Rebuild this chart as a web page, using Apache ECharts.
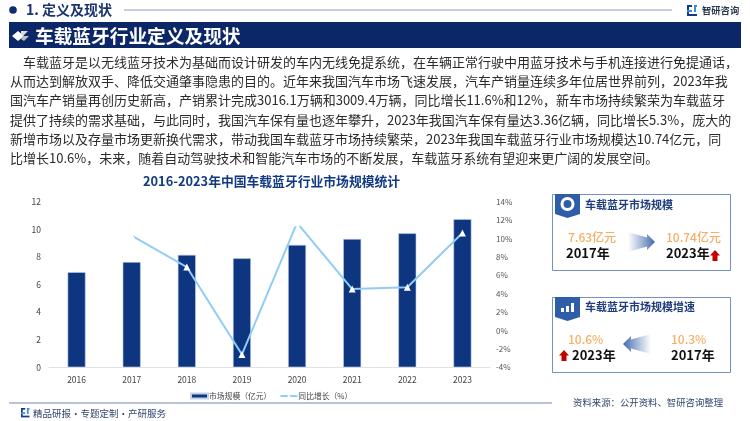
<!DOCTYPE html>
<html>
<head>
<meta charset="utf-8">
<style>
  html, body { margin: 0; padding: 0; background: #fff; }
  #main { width: 750px; height: 421px; }
</style>
<script src="https://cdn.jsdelivr.net/npm/echarts@6/dist/echarts.min.js"></script>
</head>
<body>
<div id="main"></div>
<script>
const FONT = '"Noto Sans CJK SC", "Noto Sans", sans-serif';
const ORANGE = '#f7ad62';
const years = ['2016', '2017', '2018', '2019', '2020', '2021', '2022', '2023'];
const marketSize = [6.9, 7.63, 8.15, 7.9, 8.87, 9.3, 9.71, 10.74];
const growth = [null, 10.3, 6.9, -2.6, 11.7, 4.5, 4.7, 10.6];

const paragraph = [
  [23, '车载蓝牙是以无线蓝牙技术为基础而设计研发的车内无线免提系统，在车辆正常行驶中用蓝牙技术与手机连接进行免提通话，'],
  [10, '从而达到解放双手、降低交通肇事隐患的目的。近年来我国汽车市场飞速发展，汽车产销量连续多年位居世界前列，2023年我'],
  [10, '国汽车产销量再创历史新高，产销累计完成3016.1万辆和3009.4万辆，同比增长11.6%和12%，新车市场持续繁荣为车载蓝牙'],
  [10, '提供了持续的需求基础，与此同时，我国汽车保有量也逐年攀升，2023年我国汽车保有量达3.36亿辆，同比增长5.3%，庞大的'],
  [10, '新增市场以及存量市场更新换代需求，带动我国车载蓝牙市场持续繁荣，2023年我国车载蓝牙行业市场规模达10.74亿元，同'],
  [10, '比增长10.6%，未来，随着自动驾驶技术和智能汽车市场的不断发展，车载蓝牙系统有望迎来更广阔的发展空间。']
];
const paragraphY = [62, 81, 100, 120, 139, 158];

const text = (x, y, str, size, color, weight, align) => ({
  type: 'text', silent: true,
  style: { x, y, text: str, fill: color, font: `${weight || 'normal'} ${size}px ${FONT}`, textAlign: align || 'left', textVerticalAlign: 'middle' }
});
const rect = (x, y, w, h, fill, stroke) => ({
  type: 'rect', silent: true,
  shape: { x, y, width: w, height: h },
  style: { fill: fill || 'none', stroke: stroke || 'none', lineWidth: 1 }
});
const poly = (points, fill) => ({ type: 'polygon', silent: true, shape: { points }, style: { fill } });
const line = (x1, y1, x2, y2, stroke, w) => ({
  type: 'line', silent: true,
  shape: { x1, y1, x2, y2 },
  style: { stroke, lineWidth: w || 1 }
});
// red up arrow next to the year
const upArrow = (cx, top) => poly([[cx, top], [cx + 5, top + 5.5], [cx + 2.5, top + 5.5], [cx + 2.5, top + 11], [cx - 2.5, top + 11], [cx - 2.5, top + 5.5], [cx - 5, top + 5.5]], '#c00000');
// big faded arrow, tip is on the dark side of the gradient
const bigArrow = (tail, tip, cy, h) => {
  const d = tip > tail ? 1 : -1;
  const neck = tip - d * 8;
  return {
    type: 'polygon', silent: true,
    shape: { points: [[tail, cy - h / 2], [neck, cy - 4.5], [neck, cy - 8], [tip, cy], [neck, cy + 8], [neck, cy + 4.5], [tail, cy + h / 2]] },
    style: {
      fill: new echarts.graphic.LinearGradient(d > 0 ? 0 : 1, 0, d > 0 ? 1 : 0, 0, [
        { offset: 0, color: 'rgba(255,255,255,0.9)' },
        { offset: 1, color: '#3f68ab' }
      ])
    }
  };
};
const badge = (x, y) => poly([[x, y], [x + 25, y], [x + 25, y + 20], [x + 12.5, y + 24], [x, y + 20]], '#2f5ea8');
const logo = (x, y, s) => ({
  type: 'group', silent: true, x, y, scaleX: s, scaleY: s,
  children: [
    rect(0, 0, 5, 2, '#123a86'), rect(0, 0, 2, 6, '#123a86'), rect(0, 5, 5, 2, '#3a8ede'),
    rect(0, 9, 10, 2, '#123a86'), rect(7, 0, 3, 2, '#3a8ede'), rect(7, 0, 2, 7, '#3a8ede'), rect(0, 7, 2, 3, '#123a86')
  ]
});

const graphics = [
  { type: 'circle', silent: true, shape: { cx: 13, cy: 10, r: 3.8 }, style: { fill: '#0f2c6e' } },
  text(26, 10, '1. 定义及现状', 14, '#1b3470', 'bold'),
  line(124, 10, 672, 10, '#8c9cc4', 1),
  logo(687, 5, 1),
  text(702, 10, '智研咨询', 9.3, '#2a3550', 'bold'),
  rect(9, 22, 732, 26, '#0c2768'),
  poly([[12, 36], [18, 31], [24, 36], [18, 41]], '#ffffff'),
  poly([[21, 31], [28, 31], [23, 36], [21, 34]], '#d9d9d9'),
  poly([[23, 36], [29, 36], [24, 41], [21, 39]], '#bdbdbd'),
  text(35, 35.5, '车载蓝牙行业定义及现状', 18.7, '#ffffff', 'bold'),
  ...paragraph.map((row, i) => text(row[0], paragraphY[i], row[1], 13, '#2b2b2b')),

  rect(552.5, 194.5, 178, 76, '#ffffff', '#7391c4'),
  badge(555, 194),
  { type: 'ring', silent: true, shape: { cx: 567.5, cy: 204, r: 7, r0: 4 }, style: { fill: '#ffffff' } },
  text(585, 205, '车载蓝牙市场规模', 11, '#1f3d7a', 'bold'),
  text(568, 237, '7.63亿元', 12, ORANGE, 500),
  text(566, 253, '2017年', 13, '#111111', 'bold'),
  bigArrow(628, 655, 242, 20),
  text(666, 237, '10.74亿元', 12, ORANGE, 500),
  text(666, 253, '2023年', 13, '#111111', 'bold'),
  upArrow(715, 250),

  rect(552.5, 297.5, 178, 75, '#ffffff', '#7391c4'),
  badge(555, 297),
  poly([[561, 312], [561, 308], [564, 308], [564, 312]], '#ffffff'),
  poly([[566, 312], [566, 306], [569, 306], [569, 312]], '#ffffff'),
  poly([[571, 312], [571, 303], [574, 303], [574, 312]], '#ffffff'),
  text(585, 307, '车载蓝牙市场规模增速', 11, '#1f3d7a', 'bold'),
  text(568, 339, '10.6%', 12, ORANGE, 500),
  text(572, 355, '2023年', 13, '#111111', 'bold'),
  upArrow(564, 350),
  bigArrow(651, 623, 344, 20),
  text(671, 339, '10.3%', 12, ORANGE, 500),
  text(671, 355, '2017年', 13, '#111111', 'bold'),

  line(9, 403, 552, 403, '#a3aecb', 1.5),
  logo(21, 408, 0.85),
  text(33, 413.5, '精品研报・专题定制・产研服务', 9.5, '#33466f'),
  text(573, 402, '资料来源：公开资料、智研咨询整理', 9.4, '#33466f')
];

const chart = echarts.init(document.getElementById('main'));
chart.setOption({
  animation: false,
  backgroundColor: '#ffffff',
  textStyle: { fontFamily: FONT },
  title: {
    text: '2016-2023年中国车载蓝牙行业市场规模统计',
    left: 138, top: 170,
    textStyle: { fontSize: 12.8, fontWeight: 'bold', color: '#123a82', fontFamily: FONT }
  },
  grid: { left: 49, right: 260, top: 201.7, bottom: 53.7 },
  legend: {
    bottom: 16, left: 185,
    itemGap: 8, itemWidth: 17, itemHeight: 5,
    textStyle: { fontSize: 7.8, color: '#444', padding: [0, 0, 0, -4] },
    data: [
      { name: '市场规模（亿元）', icon: 'rect' },
      { name: '同比增长（%）' }
    ]
  },
  xAxis: {
    type: 'category',
    data: years,
    axisLine: { lineStyle: { color: '#e2e2e2' } },
    axisTick: { show: false },
    axisLabel: { fontSize: 8.5, color: '#444', margin: 8 }
  },
  yAxis: [
    {
      type: 'value', min: 0, max: 12, interval: 2,
      splitLine: { show: false },
      axisLabel: { fontSize: 8.5, color: '#444', margin: 8 }
    },
    {
      type: 'value', min: -4, max: 14, interval: 2,
      splitLine: { show: false },
      axisLabel: { fontSize: 8, color: '#555', margin: 6, formatter: '{value}%' }
    }
  ],
  series: [
    {
      name: '市场规模（亿元）',
      type: 'bar',
      data: marketSize,
      barWidth: 18,
      itemStyle: { color: '#0d3580', borderColor: '#c4d2e8', borderWidth: 0.6 }
    },
    {
      name: '同比增长（%）',
      type: 'line',
      yAxisIndex: 1,
      data: growth,
      symbol: 'triangle',
      symbolSize: 7,
      z: 5,
      connectNulls: false,
      lineStyle: { color: '#8fcdf6', width: 2 },
      itemStyle: { color: '#ffffff', borderColor: '#ffffff', borderWidth: 0 }
    }
  ],
  graphic: { elements: graphics }
});
</script>
</body>
</html>
